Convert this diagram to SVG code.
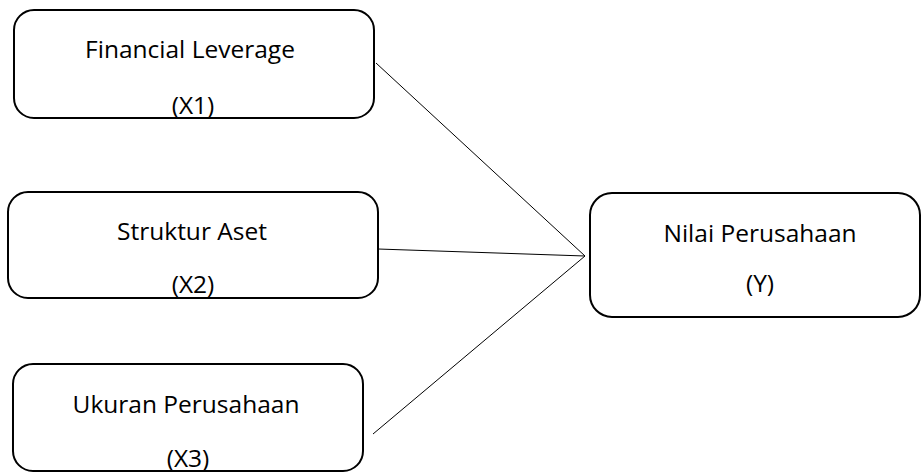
<svg xmlns="http://www.w3.org/2000/svg" width="922" height="473" viewBox="0 0 922 473">
<style>
.box{fill:#fff;stroke:#000;stroke-width:2}
.t{font-family:"Open Sans","Liberation Sans",sans-serif;font-size:24.5px;fill:#000;text-anchor:middle}
.c{stroke:#000;stroke-width:1;fill:none}
</style>
<rect width="922" height="473" fill="#fff"/>
<g id="connectors">
<line class="c" x1="376" y1="63" x2="585" y2="256"/>
<line class="c" x1="378" y1="249" x2="585" y2="256"/>
<line class="c" x1="373" y1="434" x2="585" y2="256"/>
</g>
<g id="x1">
<rect class="box" x="14" y="10" width="360" height="108" rx="20"/>
<text class="t" x="190" y="58">Financial Leverage</text>
<text class="t" x="193" y="114">(X1)</text>
</g>
<g id="x2">
<rect class="box" x="8" y="192" width="370" height="106" rx="20"/>
<text class="t" x="192" y="240">Struktur Aset</text>
<text class="t" x="193" y="293">(X2)</text>
</g>
<g id="x3">
<rect class="box" x="13" y="364" width="350" height="107" rx="20"/>
<text class="t" x="186" y="413">Ukuran Perusahaan</text>
<text class="t" x="188" y="467">(X3)</text>
</g>
<g id="y">
<rect class="box" x="590" y="193" width="330" height="124" rx="22"/>
<text class="t" x="760" y="242">Nilai Perusahaan</text>
<text class="t" x="760" y="292">(Y)</text>
</g>
</svg>
